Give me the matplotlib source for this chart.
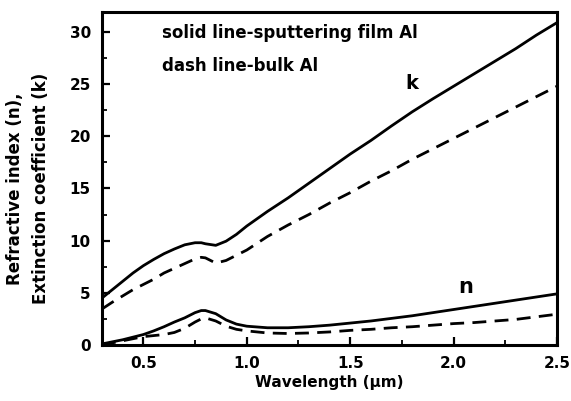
import matplotlib
matplotlib.use("Agg")
import matplotlib.pyplot as plt
from matplotlib.ticker import MultipleLocator

plt.rcParams['font.family'] = ['DejaVu Sans']
plt.rcParams['font.weight'] = 'bold'

wavelength = [0.3, 0.35, 0.4, 0.45, 0.5, 0.55, 0.6, 0.65, 0.7, 0.75, 0.78, 0.8, 0.85,
              0.9, 0.95, 1.0, 1.1, 1.2, 1.3, 1.4, 1.5, 1.6, 1.7, 1.8, 1.9, 2.0,
              2.1, 2.2, 2.3, 2.4, 2.5]

k_film = [4.5, 5.3, 6.1, 6.9, 7.6, 8.2, 8.75, 9.2, 9.6, 9.8, 9.8, 9.7, 9.55,
          9.95, 10.6, 11.4, 12.8, 14.1, 15.5, 16.9, 18.3, 19.6, 21.0, 22.35, 23.6, 24.8,
          26.0, 27.2, 28.4, 29.7, 30.9]

k_bulk = [3.45, 4.1, 4.7, 5.3, 5.8, 6.3, 6.9, 7.35, 7.8, 8.25, 8.4, 8.35, 7.85,
          8.1, 8.6, 9.1, 10.4, 11.5, 12.5, 13.6, 14.6, 15.7, 16.7, 17.8, 18.8, 19.8,
          20.8, 21.8, 22.8, 23.8, 24.8]

n_film = [0.1, 0.3, 0.5, 0.75, 1.0, 1.35, 1.75, 2.2, 2.6, 3.1, 3.3, 3.3, 3.0,
          2.4, 2.0, 1.8, 1.65, 1.65, 1.75, 1.9, 2.1, 2.3, 2.55, 2.8, 3.1, 3.4,
          3.7, 4.0, 4.3, 4.6, 4.9]

n_bulk = [0.0, 0.2, 0.4, 0.6, 0.8, 0.9, 1.0, 1.2, 1.6, 2.2, 2.5, 2.6, 2.3,
          1.8, 1.5, 1.35, 1.15, 1.1, 1.15, 1.25, 1.4, 1.5, 1.65, 1.75, 1.9, 2.05,
          2.15, 2.3, 2.45, 2.7, 2.95]

fig = plt.figure(figsize=(5.71, 4.01), dpi=100)
ax = fig.add_axes([0.1786, 0.1397, 0.797, 0.830])

lw = 2.0
dash = (0, (5, 3))
ax.plot(wavelength, k_film, color='black', lw=lw)
ax.plot(wavelength, k_bulk, color='black', lw=lw, linestyle=dash)
ax.plot(wavelength, n_film, color='black', lw=lw)
ax.plot(wavelength, n_bulk, color='black', lw=lw, linestyle=dash)

ax.set_xlim(0.3, 2.5)
ax.set_ylim(0, 31.9)
ax.xaxis.set_major_locator(MultipleLocator(0.5))
ax.xaxis.set_minor_locator(MultipleLocator(0.25))
ax.yaxis.set_major_locator(MultipleLocator(5))
ax.yaxis.set_minor_locator(MultipleLocator(2.5))
ax.set_xticks([0.5, 1.0, 1.5, 2.0, 2.5])
ax.set_xticklabels(['0.5', '1.0', '1.5', '2.0', '2.5'])

ax.tick_params(which='major', direction='in', length=6, width=1.6, labelsize=11, pad=8)
ax.tick_params(which='minor', direction='in', length=3.5, width=1.3)
for lab in ax.get_xticklabels() + ax.get_yticklabels():
    lab.set_fontweight('bold')
for s in ax.spines.values():
    s.set_linewidth(2.2)

ax.set_xlabel('Wavelength (μm)', fontsize=11, fontweight='bold', labelpad=3)
ax.set_ylabel('Refractive index (n),\nExtinction coefficient (k)', fontsize=12,
              fontweight='bold', linespacing=1.55, va='center')
ax.yaxis.set_label_coords(-0.162, 0.47)

ax.text(0.59, 29.9, 'solid line-sputtering film Al', fontsize=12, fontweight='bold',
        va='center', ha='left')
ax.text(0.59, 26.7, 'dash line-bulk Al', fontsize=12, fontweight='bold',
        va='center', ha='left')
ax.text(1.80, 25.1, 'k', fontsize=14, fontweight='bold', va='center', ha='center')
ax.text(2.06, 5.6, 'n', fontsize=15, fontweight='bold', va='center', ha='center')

fig.savefig('out.png', dpi=100)
